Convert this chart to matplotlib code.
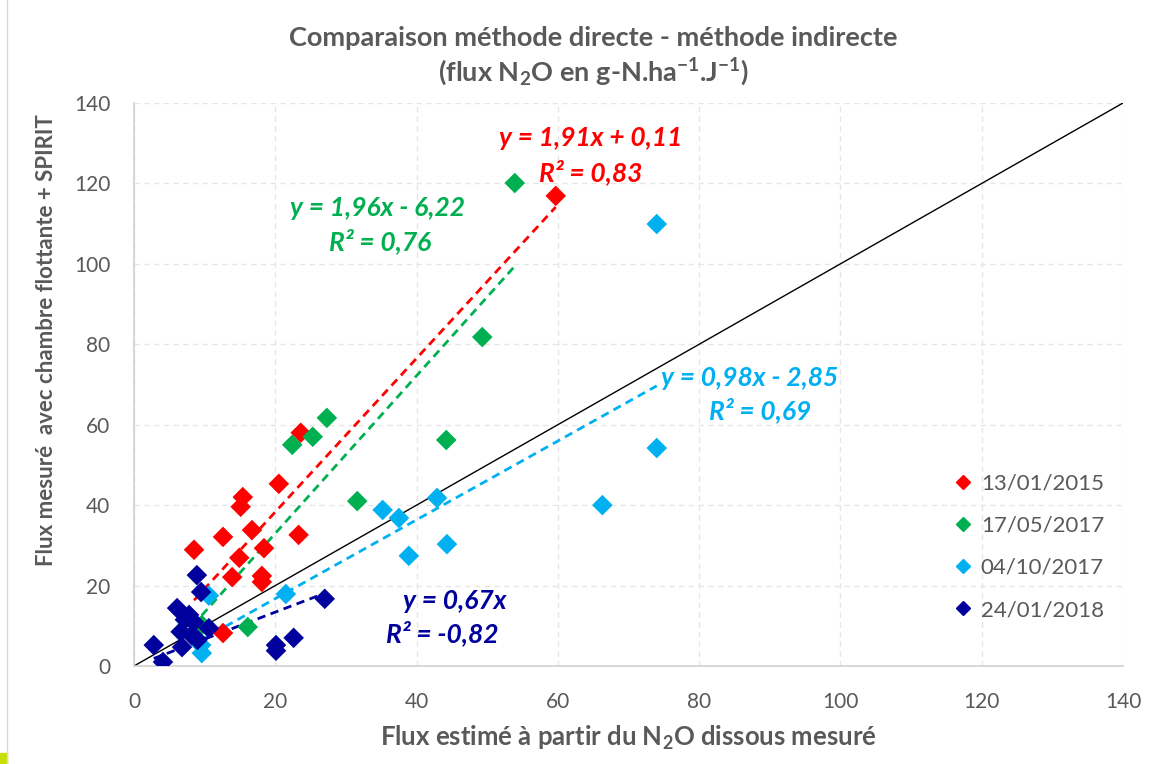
import matplotlib
matplotlib.use("Agg")
import matplotlib.pyplot as plt
from matplotlib.lines import Line2D
from matplotlib.patches import Rectangle

plt.rcParams['font.family'] = ['Lato', 'DejaVu Sans']
plt.rcParams['mathtext.fontset'] = 'custom'
plt.rcParams['mathtext.rm'] = 'Lato:bold'
plt.rcParams['mathtext.bf'] = 'Lato:bold'
plt.rcParams['mathtext.it'] = 'Lato:bold:italic'

# ---- data ----
series_labels = ["13/01/2015", "17/05/2017", "04/10/2017", "24/01/2018"]
series_colors = ["#FF0000", "#00B050", "#00B0F0", "#00009C"]

x_2015 = [59.7, 23.6, 20.5, 15.4, 15.1, 12.6, 8.5, 16.7, 23.3, 18.4, 14.9, 13.9, 18.1, 18.1, 12.6]
y_2015 = [116.9, 58.0, 45.3, 42.0, 39.6, 32.1, 28.9, 33.8, 32.6, 29.3, 26.9, 22.1, 22.4, 20.9, 8.2]

x_2017a = [53.9, 49.3, 27.3, 25.3, 22.4, 31.6, 44.2, 16.1, 9.6]
y_2017a = [120.1, 81.8, 61.7, 57.0, 55.0, 41.0, 56.2, 9.7, 10.2]

x_2017b = [74.0, 74.0, 66.3, 42.9, 35.2, 37.5, 44.3, 38.9, 21.5, 10.6, 9.5, 9.6]
y_2017b = [109.9, 54.2, 40.0, 41.8, 38.8, 36.8, 30.3, 27.4, 17.9, 17.5, 5.2, 3.2]

x_2018 = [8.9, 9.5, 6.1, 7.8, 8.5, 6.6, 8.1, 10.6, 2.8, 6.8, 4.1, 20.1, 20.1, 22.6, 27.0, 7.2, 9.0]
y_2018 = [22.6, 18.4, 14.4, 12.7, 10.9, 8.5, 7.7, 9.4, 5.2, 4.7, 1.0, 5.2, 3.8, 7.0, 16.7, 11.5, 6.5]

# trendline coefficients (slope, intercept) as displayed
trend_slopes = [1.91, 1.96, 0.98, 0.67]
trend_intercepts = [0.11, -6.22, -2.85, 0.0]
trend_eq = ["y = 1,91x + 0,11", "y = 1,96x - 6,22", "y = 0,98x - 2,85", "y = 0,67x"]
trend_r2 = ["R² = 0,83", "R² = 0,76", "R² = 0,69", "R² = -0,82"]
eq_pos = [(64.7, 131.3), (34.5, 113.9), (87.2, 71.6), (45.4, 16.2)]
r2_pos = [(64.6, 122.9), (34.8, 105.7), (88.6, 63.7), (43.7, 8.2)]

ticks = [0, 20, 40, 60, 80, 100, 120, 140]

xs = [x_2015, x_2017a, x_2017b, x_2018]
ys = [y_2015, y_2017a, y_2017b, y_2018]

fig = plt.figure(figsize=(11.63, 7.64), dpi=100)
ax = fig.add_axes([134/1163, 1-666/764, (1123-134)/1163, (666-103)/764])

grid_c = "#E6E6E6"
ax.set_xlim(0, 140)
ax.set_ylim(0, 140)
ax.set_xticks(ticks)
ax.set_yticks(ticks)
ax.grid(True, color=grid_c, linestyle=(0, (4, 3)), linewidth=1.0)
ax.set_axisbelow(True)
for s in ["top", "right"]:
    ax.spines[s].set_visible(False)
for s in ["left", "bottom"]:
    ax.spines[s].set_color("#D0D0D0")
    ax.spines[s].set_linewidth(1.2)
ax.tick_params(length=0, labelsize=15, labelcolor="#595959")
ax.tick_params(axis="x", pad=19)
ax.tick_params(axis="y", pad=17)

# 1:1 line
ax.plot([0, 140], [0, 140], color="black", linewidth=1.0, zorder=2)

handles = []
for x, y, c, lab, m, b in zip(xs, ys, series_colors, series_labels, trend_slopes, trend_intercepts):
    ax.scatter(x, y, marker="D", s=110, color=c, edgecolors="none", zorder=4)
    x0, x1 = min(x), max(x)
    ax.plot([x0, x1], [m * x0 + b, m * x1 + b], color=c, linewidth=2.0,
            linestyle=(0, (3, 2)), zorder=3)
    handles.append(Line2D([], [], marker="D", linestyle="none", color=c,
                          markersize=7, label=lab))

for (ex, ey), (rx, ry), eq, r2, c in zip(eq_pos, r2_pos, trend_eq, trend_r2, series_colors):
    ax.text(ex, ey, eq, color=c, fontsize=19, fontweight="bold",
            fontstyle="italic", ha="center", va="center", zorder=5)
    ax.text(rx, ry, r2, color=c, fontsize=19, fontweight="bold",
            fontstyle="italic", ha="center", va="center", zorder=5)

leg = ax.legend(handles=handles, loc="upper left", bbox_to_anchor=(0.818, 0.358),
                frameon=False, fontsize=16, labelspacing=1.0, handletextpad=0.3,
                handlelength=1.0, borderaxespad=0)
for t in leg.get_texts():
    t.set_color("#595959")

ax.set_xlabel("Flux estimé à partir du N$_2$O dissous mesuré", fontsize=18.5,
              fontweight="bold", color="#595959", labelpad=8)
ax.set_ylabel("Flux mesuré  avec chambre flottante + SPIRIT", fontsize=16,
              fontweight="bold", color="#595959")
ax.yaxis.set_label_coords(-0.078, 0.579)

fig.text(593/1163, 1-38/764, "Comparaison méthode directe - méthode indirecte",
         ha="center", va="center", fontsize=19.5, fontweight="bold", color="#595959")
fig.text(593/1163, 1-72/764, "(flux N$_2$O en g-N.ha$^{-1}$.J$^{-1}$)",
         ha="center", va="center", fontsize=19.5, fontweight="bold", color="#595959")

# figure decorations
fig.add_artist(Line2D([7/1163, 7/1163], [0, 1], color="#D9D9D9", linewidth=1.0))
fig.add_artist(Rectangle((0, 0), 7/1163, 11/764, color="#C8E000", transform=fig.transFigure))

fig.savefig("out.png", dpi=100)
